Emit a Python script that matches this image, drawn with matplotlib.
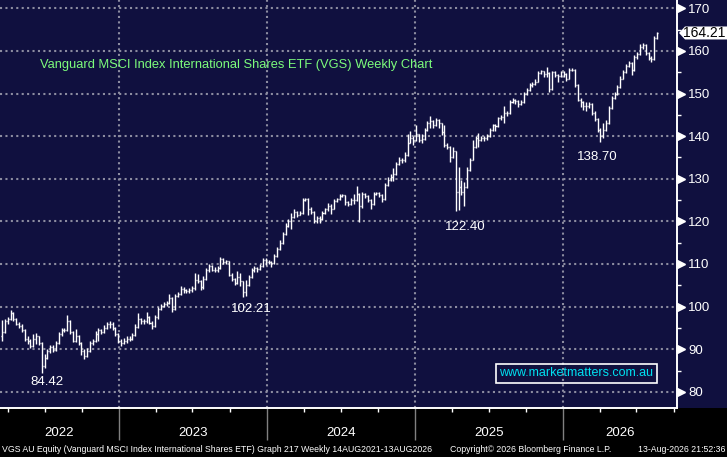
import matplotlib
matplotlib.use("Agg")
import matplotlib.pyplot as plt
import matplotlib.dates as mdates
from matplotlib.collections import LineCollection
from matplotlib.patches import Polygon, Rectangle
from matplotlib.ticker import MultipleLocator
import pandas as pd

NAVY = "#10103f"
GRID = "#8c8ca0"
SANS = ["Liberation Sans", "DejaVu Sans"]

# weekly bars, VGS AU
first_open = 93.0
closes = [
    94.0, 96.5, 97.0, 98.5, 97.0, 96.0, 95.5, 94.5, 92.5, 92.0,
    90.8, 92.5, 93.0, 91.5, 86.0, 88.0, 89.5, 90.5, 89.8, 91.5,
    93.5, 94.5, 94.5, 96.5, 94.0, 92.0, 93.0, 91.5, 89.5, 88.5,
    89.5, 91.5, 92.0, 93.5, 94.5, 94.0, 95.0, 95.8, 96.0, 95.0,
    93.5, 92.0, 91.5, 92.0, 92.5, 92.5, 93.3, 95.3, 97.0, 96.5,
    96.5, 97.5, 96.2, 95.5, 97.5, 99.5, 100.2, 100.5, 100.8, 102.0,
    99.5, 102.5, 103.0, 104.2, 103.8, 103.6, 103.8, 104.3, 106.3, 106.0,
    104.5, 106.5, 108.5, 109.5, 108.7, 108.5, 109.0, 111.2, 110.5, 110.6,
    107.5, 106.5, 105.5, 107.0, 106.0, 103.5, 105.0, 107.0, 108.5, 109.0,
    108.8, 109.6, 110.9, 110.5, 110.5, 110.2, 111.8, 113.5, 115.0, 117.0,
    119.0, 120.0, 121.0, 122.2, 121.6, 122.0, 125.0, 125.2, 123.0, 122.3,
    120.0, 120.8, 120.5, 122.0, 122.8, 123.7, 123.0, 124.8, 125.2, 126.0,
    126.1, 124.5, 124.1, 125.0, 125.0, 126.5, 123.5, 126.5, 126.0, 125.0,
    124.0, 126.5, 126.6, 126.3, 125.3, 128.5, 129.8, 130.3, 131.0, 133.5,
    134.5, 134.3, 135.5, 138.5, 139.5, 139.0, 140.5, 139.0, 139.3, 141.5,
    143.0, 143.5, 142.5, 143.8, 143.0, 141.0, 138.0, 137.5, 135.0, 136.5,
    127.0, 128.0, 127.0, 128.0, 132.0, 134.5, 137.5, 139.5, 139.0, 139.5,
    139.6, 140.0, 141.5, 142.5, 142.3, 144.2, 144.5, 145.5, 145.5, 148.0,
    148.5, 148.3, 147.5, 148.0, 150.0, 150.8, 152.0, 152.3, 152.8, 154.8,
    155.2, 154.5, 154.8, 151.0, 155.0, 154.3, 154.0, 155.0, 154.5, 153.5,
    155.5, 155.6, 152.0, 148.5, 148.0, 147.0, 147.0, 147.5, 145.5, 144.0,
    141.5, 140.0, 141.5, 143.0, 146.5, 149.0, 149.8, 151.5, 153.5, 155.0,
    156.5, 157.2, 155.5, 158.5, 159.2, 161.0, 161.5, 159.5, 158.3, 158.0,
    163.0, 164.21,
]
highs = [
    96.8, 97.0, 97.6, 99.2, 98.8, 97.3, 96.4, 95.9, 94.7, 93.2,
    92.3, 93.5, 93.8, 93.2, 91.8, 88.8, 90.0, 91.0, 91.0, 92.0,
    94.0, 95.0, 95.0, 98.0, 96.8, 94.2, 94.8, 93.4, 91.7, 90.0,
    90.2, 92.0, 92.5, 94.3, 95.0, 94.8, 95.6, 96.4, 96.6, 96.3,
    95.2, 93.7, 92.4, 92.6, 93.0, 93.0, 93.8, 95.8, 98.5, 97.3,
    97.0, 98.8, 97.7, 96.6, 98.0, 100.0, 100.7, 101.0, 101.2, 103.0,
    102.3, 103.0, 103.5, 104.8, 104.5, 104.2, 104.3, 104.8, 107.8, 107.7,
    106.2, 107.2, 109.0, 110.0, 109.8, 109.2, 109.6, 111.6, 111.4, 111.0,
    110.8, 107.8, 106.8, 108.4, 107.9, 106.0, 106.2, 107.5, 109.0, 109.5,
    109.4, 110.0, 111.3, 111.4, 111.0, 110.8, 112.3, 114.0, 115.6, 117.5,
    119.6, 120.5, 122.0, 122.8, 122.4, 122.5, 125.6, 125.6, 125.5, 123.4,
    122.5, 121.2, 121.2, 122.4, 123.2, 124.2, 124.0, 125.2, 125.6, 126.5,
    126.5, 126.3, 124.8, 125.5, 126.4, 128.2, 126.6, 127.0, 126.7, 126.2,
    125.2, 127.0, 127.0, 126.9, 126.5, 129.0, 130.3, 131.2, 132.6, 134.0,
    135.0, 134.8, 136.2, 140.5, 141.2, 140.0, 142.5, 140.6, 140.5, 141.9,
    143.6, 144.8, 143.8, 144.2, 144.0, 143.2, 142.5, 138.4, 137.6, 137.5,
    136.6, 132.8, 129.8, 129.2, 132.7, 134.8, 139.0, 140.0, 140.8, 140.0,
    140.0, 140.4, 141.9, 142.9, 142.8, 144.6, 144.9, 147.0, 146.0, 148.5,
    149.0, 148.8, 148.5, 148.5, 150.4, 151.2, 152.4, 152.7, 153.3, 155.2,
    155.6, 155.4, 156.2, 155.0, 155.4, 155.2, 154.6, 155.4, 155.2, 154.8,
    155.9, 156.0, 155.8, 152.2, 149.0, 148.3, 148.0, 148.0, 147.7, 145.8,
    144.2, 141.8, 143.0, 143.8, 147.0, 149.5, 150.3, 152.0, 154.0, 155.6,
    157.0, 157.6, 157.5, 159.0, 159.8, 161.6, 161.9, 161.6, 159.8, 158.8,
    163.4, 164.5,
]
lows = [
    92.0, 93.8, 96.0, 96.8, 96.6, 95.6, 95.0, 94.0, 92.0, 91.2,
    90.3, 90.5, 91.2, 91.0, 84.42, 85.5, 87.6, 89.0, 89.4, 89.6,
    91.3, 93.2, 94.0, 94.2, 93.6, 91.6, 91.8, 91.0, 88.6, 87.6,
    88.2, 89.3, 91.0, 91.8, 92.0, 93.6, 93.8, 94.8, 95.0, 94.6,
    93.0, 91.5, 90.8, 91.2, 91.5, 92.0, 92.2, 93.0, 95.0, 96.0,
    95.8, 96.2, 95.8, 94.8, 95.3, 97.2, 99.2, 99.8, 100.2, 100.6,
    98.8, 99.3, 102.2, 102.8, 103.2, 103.2, 103.2, 103.5, 104.0, 105.5,
    104.0, 104.2, 106.3, 108.2, 108.3, 108.0, 108.2, 108.8, 110.0, 110.1,
    107.2, 106.0, 105.0, 105.2, 104.8, 102.21, 102.5, 104.8, 106.8, 108.2,
    108.2, 108.5, 109.4, 109.8, 110.0, 109.4, 110.0, 111.6, 113.2, 114.8,
    116.8, 118.7, 118.3, 120.8, 121.0, 121.4, 121.8, 124.7, 121.5, 121.8,
    119.6, 119.7, 119.6, 120.3, 121.8, 122.5, 121.8, 122.8, 124.6, 125.0,
    125.7, 123.8, 123.6, 123.9, 124.0, 124.8, 119.8, 123.2, 125.6, 124.6,
    122.8, 123.8, 126.1, 125.8, 124.5, 125.1, 128.2, 129.5, 129.5, 130.8,
    133.2, 133.8, 134.0, 135.3, 138.3, 138.0, 138.8, 138.6, 138.5, 139.0,
    141.3, 142.0, 141.8, 142.3, 141.8, 140.3, 137.4, 137.0, 134.0, 134.8,
    122.4, 122.6, 126.2, 123.6, 127.8, 131.8, 134.3, 137.3, 137.5, 138.8,
    138.8, 139.2, 139.8, 141.3, 141.3, 142.1, 143.8, 143.0, 144.8, 145.3,
    147.8, 147.6, 146.8, 147.3, 147.8, 149.7, 150.6, 151.5, 152.0, 152.6,
    154.5, 153.8, 153.8, 150.4, 150.8, 153.8, 152.6, 153.8, 153.8, 153.0,
    153.3, 155.2, 151.5, 148.2, 146.9, 146.2, 146.0, 146.5, 145.0, 143.5,
    141.0, 138.7, 139.6, 141.3, 142.8, 146.3, 148.8, 149.6, 151.3, 153.3,
    154.8, 156.2, 154.3, 155.3, 158.2, 159.0, 160.5, 159.0, 157.8, 157.4,
    157.8, 162.8,
]

years = ["2022", "2023", "2024", "2025", "2026"]
swing_bars = [14, 85, 160, 211]
swing_labels = ["84.42", "102.21", "122.40", "138.70"]
swing_offsets = [(4, -2.5), (6, -4.5), (7, -7), (-2, -6.5)]  # points

dates = pd.date_range(end="2026-08-21", periods=len(closes), freq="7D")
xs = mdates.date2num(dates)
opens = [first_open] + closes[:-1]
half = 2.5

segs = []
for x, o, h, l, c in zip(xs, opens, highs, lows, closes):
    segs.append([(x, l), (x, h)])
    segs.append([(x - half, o), (x, o)])
    segs.append([(x, c), (x + half, c)])

fig = plt.figure(figsize=(7.27, 4.57), dpi=100)
fig.patch.set_facecolor("black")
fig.add_artist(Rectangle((0, 49 / 457), 1, 408 / 457, transform=fig.transFigure,
                         facecolor=NAVY, edgecolor="none", zorder=0))
ax = fig.add_axes([0, 49 / 457, 677 / 727, 408 / 457])
ax.set_facecolor(NAVY)

ax.add_collection(LineCollection(segs, colors="white", linewidths=1.0, zorder=3))

x0 = mdates.date2num(pd.Timestamp("2022-03-13"))
x1 = mdates.date2num(pd.Timestamp("2026-10-09"))
ax.set_xlim(x0, x1)
ax.set_ylim(76.2, 171.95)

for s in ["top", "left"]:
    ax.spines[s].set_visible(False)
for s in ["bottom", "right"]:
    ax.spines[s].set_color("white")
    ax.spines[s].set_linewidth(1.4)

# y axis on the right
ax.yaxis.tick_right()
ax.yaxis.set_minor_locator(MultipleLocator(5))
ax.set_yticks(range(80, 171, 10))
ax.tick_params(axis="y", which="major", length=0, pad=8, labelcolor="white", labelsize=9.5)
ax.tick_params(axis="y", which="minor", length=3, width=1, color="white", direction="out")
for lab in ax.get_yticklabels():
    lab.set_family(SANS)
ytr = ax.get_yaxis_transform()
ax.plot([1.0 + 3.5 / 677] * 10, list(range(80, 171, 10)), ">", color="white",
        markersize=5.5, transform=ytr, clip_on=False, zorder=5)

# x axis: years and quarter ticks
ax.xaxis.set_major_locator(mdates.YearLocator())
ax.xaxis.set_minor_locator(mdates.MonthLocator(bymonth=[1, 4, 7, 10]))
ax.tick_params(axis="x", which="both", labelbottom=False)
ax.tick_params(axis="x", which="major", length=0)
ax.tick_params(axis="x", which="minor", length=3, width=1, color="white", direction="out")

ax.grid(which="major", color=GRID, linestyle=(0, (1, 1.6)), linewidth=1.5)
ax.set_axisbelow(True)

bounds = [mdates.date2num(pd.Timestamp(f"{y}-01-01")) for y in years[1:]]
xtr = ax.get_xaxis_transform()
ax.vlines(bounds, -32 / 408, 0, transform=xtr, colors="#808080", linewidth=1, clip_on=False)
edges = [x0] + bounds + [x1]
for i, y in enumerate(years):
    ax.text((edges[i] + edges[i + 1]) / 2, -25 / 408, y, transform=xtr, ha="center",
            va="center", color="white", fontsize=9.5, family=SANS)

# swing low labels
for b, txt, off in zip(swing_bars, swing_labels, swing_offsets):
    ax.annotate(txt, (xs[b], lows[b]), xytext=off, textcoords="offset points",
                ha="center", va="top", color="white", fontsize=9.5, family=SANS)

# title and watermark
fig.text(40 / 727, 1 - 65 / 457, "Vanguard MSCI Index International Shares ETF (VGS) Weekly Chart",
         color="#7CFC7C", fontsize=9.3, family=SANS, va="center", ha="left")
ax.text(576 / 677, 1 - 373 / 408, "www.marketmatters.com.au", transform=ax.transAxes,
        ha="center", va="center", color="#00E0F0", fontsize=9.0, family=SANS,
        bbox=dict(boxstyle="square,pad=0.28", facecolor="none", edgecolor="white", linewidth=1.2))

# last price tag
last = closes[-1]
ppu = 408 / (171.95 - 76.2)
hh = 6.5 / ppu
tag = Polygon([(1 + 2 / 677, last), (1 + 8 / 677, last + hh), (727 / 677, last + hh),
               (727 / 677, last - hh), (1 + 8 / 677, last - hh)], closed=True,
              transform=ytr, facecolor="white", edgecolor="none", clip_on=False, zorder=6)
ax.add_patch(tag)
ax.text(1 + 27 / 677, last, f"{last:.2f}", transform=ytr, ha="center", va="center",
        color="black", fontsize=10, family=SANS, zorder=7, clip_on=False)

# footer
fy = 1 - 449 / 457
fig.text(2 / 727, fy, "VGS AU Equity (Vanguard MSCI Index International Shares ETF) Graph 217 Weekly 14AUG2021-13AUG2026",
         color="white", fontsize=6.3, family=SANS, va="center", ha="left")
fig.text(450 / 727, fy, "Copyright\u00a9 2026 Bloomberg Finance L.P.", color="white",
         fontsize=6.3, family=SANS, va="center", ha="left")
fig.text(725 / 727, fy, "13-Aug-2026 21:52:36", color="white", fontsize=6.3,
         family=SANS, va="center", ha="right")

fig.savefig("out.png", dpi=100, facecolor=fig.get_facecolor())
